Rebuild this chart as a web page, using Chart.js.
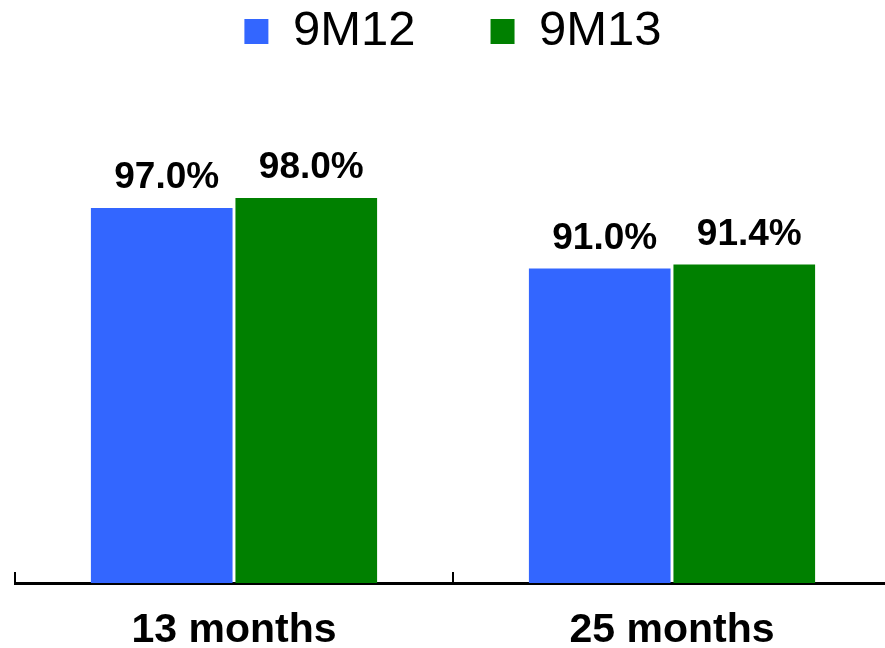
<!DOCTYPE html>
<html>
<head>
<meta charset="utf-8">
<script src="https://cdn.jsdelivr.net/npm/chart.js@4.4.1/dist/chart.umd.min.js"></script>
<style>
html,body{margin:0;padding:0;background:#fff;overflow:hidden;}
#wrap{width:895px;height:648px;}
</style>
</head>
<body>
<div id="wrap"><canvas id="chart" width="895" height="648"></canvas></div>
<script>
const categories=['13 months','25 months'];
const seriesNames=['9M12','9M13'];
const values9M12=[97.0,91.0];
const values9M13=[98.0,91.4];
const seriesColors=['#3366FF','#008000'];

const FONT='"Liberation Sans", Arial, sans-serif';

// percent labels above each bar
const valueLabels={
id:'valueLabels',
afterDatasetsDraw(chart){
const ctx=chart.ctx;
ctx.save();
ctx.font='bold 37px '+FONT;
ctx.fillStyle='#000';
ctx.textAlign='center';
ctx.textBaseline='alphabetic';
chart.data.datasets.forEach((ds,i)=>{
chart.getDatasetMeta(i).data.forEach((bar,j)=>{
ctx.fillText(ds.data[j].toFixed(1)+'%',bar.x+5,bar.y-20);
});
});
ctx.restore();
}
};

// short tick marks standing up from the axis at category boundaries
const axisTicks={
id:'axisTicks',
afterDraw(chart){
const xs=chart.scales.x;
const area=chart.chartArea;
const ctx=chart.ctx;
const n=xs.ticks.length;
let marks=[area.left,area.right];
for(let i=0;i<n-1;i++){
marks.push((xs.getPixelForTick(i)+xs.getPixelForTick(i+1))/2);
}
ctx.save();
ctx.strokeStyle='#000';
ctx.lineWidth=2;
marks.forEach(px=>{
ctx.beginPath();
ctx.moveTo(px,area.bottom-11);
ctx.lineTo(px,area.bottom);
ctx.stroke();
});
ctx.restore();
}
};

new Chart(document.getElementById('chart'),{
type:'bar',
data:{
labels:categories,
datasets:[{
label:seriesNames[0],
data:values9M12,
backgroundColor:seriesColors[0],
borderWidth:0,
categoryPercentage:0.66,
barPercentage:0.98
},{
label:seriesNames[1],
data:values9M13,
backgroundColor:seriesColors[1],
borderWidth:0,
categoryPercentage:0.66,
barPercentage:0.98
}]
},
options:{
responsive:false,
animation:false,
layout:{padding:{left:15,right:4,top:0,bottom:0}},
plugins:{
legend:{
position:'top',
labels:{
color:'#000',
font:{family:FONT,size:49},
boxWidth:24,
boxHeight:25,
padding:7,
generateLabels(chart){
const items=Chart.defaults.plugins.legend.labels.generateLabels(chart);
// widen the first entry so the two entries sit apart like the original
if(items.length) items[0].text=items[0].text+'     ';
return items;
}
}
},
tooltip:{enabled:false}
},
scales:{
x:{
grid:{display:false,drawTicks:false},
border:{display:true,color:'#000',width:3},
ticks:{color:'#000',font:{family:FONT,size:41,weight:'bold'},padding:23},
afterFit(scale){scale.height=65;}
},
y:{
display:false,
min:59.8,
max:111.1
}
}
},
plugins:[valueLabels,axisTicks]
});
</script>
</body>
</html>
